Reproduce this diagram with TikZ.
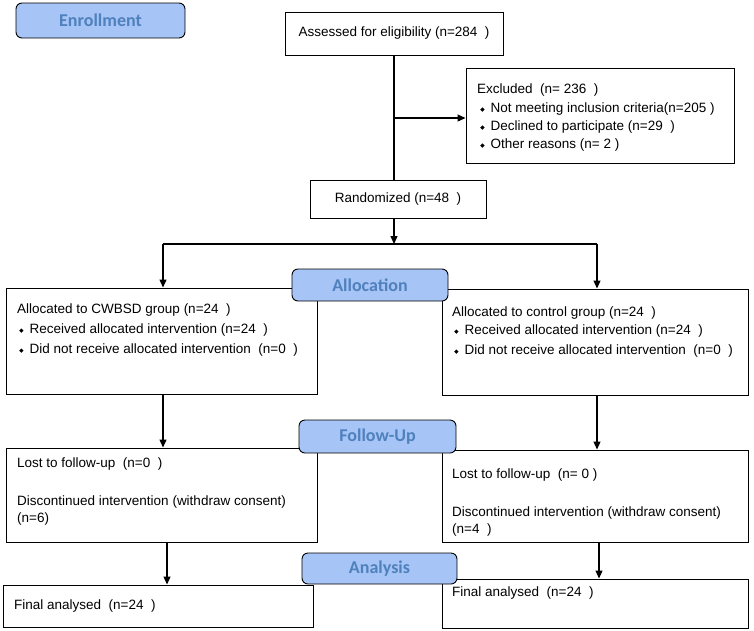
\documentclass[tikz,border=0pt]{standalone}
\usepackage{fontspec}
\setmainfont{Liberation Sans}
\newfontfamily\labfont{Carlito}
\usetikzlibrary{arrows.meta}
\definecolor{labfill}{RGB}{166,196,245}
\definecolor{labtext}{RGB}{79,129,189}
\newcommand\dbul{\tikz[baseline=0pt]\fill (0pt,2.4pt) -- (2.2pt,4.6pt) -- (4.4pt,2.4pt) -- (2.2pt,0.2pt) -- cycle;\hspace{6pt}}
\tikzset{
  box/.style={draw, line width=1pt, inner sep=0pt},
  lab/.style={draw, line width=0.9pt, rounded corners=6pt, fill=labfill, text=labtext, inner sep=0pt,
    font=\labfont\bfseries\fontsize{18}{20}\selectfont},
  txt/.style={anchor=base west, inner sep=0pt, font=\fontsize{13.5}{16}\selectfont},
  ctxt/.style={font=\fontsize{13.5}{16}\selectfont},
  arr/.style={-{Triangle[length=8pt,width=7pt]}, line width=1.2pt},
  ln/.style={line width=1.2pt}
}
\begin{document}
\begin{tikzpicture}[x=1pt,y=-1pt]
\useasboundingbox (0,0) rectangle (754,630);
% boxes
\node[box, ctxt, minimum width=218pt, minimum height=43pt] (assess) at (394,33.5) {Assessed for eligibility (n=284~~)};
\node[box, minimum width=268pt, minimum height=95pt] (excl) at (600,115.5) {};
\node[box, ctxt, minimum width=176pt, minimum height=38pt] (rand) at (398,199) {Randomized (n=48~~)};
\node[box, minimum width=311pt, minimum height=106pt] (l1) at (161.5,341) {};
\node[box, minimum width=306pt, minimum height=106pt] (r1) at (595,342) {};
\node[box, minimum width=311pt, minimum height=94pt] (l2) at (161.5,495) {};
\node[box, minimum width=306pt, minimum height=92pt] (r2) at (595,496) {};
\node[box, minimum width=310pt, minimum height=42pt] (l3) at (158,606) {};
\node[box, minimum width=306pt, minimum height=49pt] (r3) at (595,603.5) {};
% texts
\node[txt] (ex0) at (477,93) {Excluded~~(n=~236~~)};
\node[txt] (ex1) at (480,112) {\dbul Not meeting inclusion criteria(n=205 )};
\node[txt] (ex2) at (480,130) {\dbul Declined to participate (n=29~~)};
\node[txt] (ex3) at (480,148) {\dbul Other reasons (n=~2 )};
\node[txt] (l1a) at (17,313) {Allocated to CWBSD group (n=24~~)};
\node[txt] (l1b) at (19,333) {\dbul Received allocated intervention (n=24~~)};
\node[txt] (l1c) at (19,353) {\dbul Did not receive allocated intervention~~(n=0~~)};
\node[txt] (r1a) at (452,316) {Allocated to control group (n=24~~)};
\node[txt] (r1b) at (454,334) {\dbul Received allocated intervention (n=24~~)};
\node[txt] (r1c) at (454,354) {\dbul Did not receive allocated intervention~~(n=0~~)};
\node[txt] (l2a) at (17,467) {Lost to follow-up~~(n=0~~)};
\node[txt] (l2b) at (17,505) {Discontinued intervention (withdraw consent)};
\node[txt] (l2c) at (17,522) {(n=6)};
\node[txt] (r2a) at (452,478) {Lost to follow-up~~(n=~0 )};
\node[txt] (r2b) at (452,516) {Discontinued intervention (withdraw consent)};
\node[txt] (r2c) at (452,533) {(n=4~~)};
\node[txt] (l3a) at (14,609) {Final analysed~~(n=24~~)};
\node[txt] (r3a) at (452,596) {Final analysed~~(n=24~~)};
% connectors
\coordinate (bx) at (394,118);
\coordinate (split) at (394,244);
\coordinate (sl) at (163,244);
\coordinate (sr) at (597,244);
\draw[ln] (assess.south) -- (assess.south |- rand.north);
\draw[arr] (bx) -- (excl.west |- bx);
\draw[arr] (assess.south |- rand.south) -- (split);
\draw[ln] (sl) -- (sr);
\draw[arr] (sl) -- (sl |- l1.north);
\draw[arr] (sr) -- (sr |- r1.north);
\draw[arr] (sl |- l1.south) -- (sl |- l2.north);
\draw[arr] (sr |- r1.south) -- (sr |- r2.north);
\draw[arr] ([xshift=5.5pt]l2.south) -- ([xshift=5.5pt]l2.south |- l3.north);
\draw[arr] ([xshift=4pt]r2.south) -- ([xshift=4pt]r2.south |- r3.north);
% phase labels
\node[lab, minimum width=169pt, minimum height=35pt] (enroll) at (100.5,20.5) {Enrollment};
\node[lab, minimum width=156pt, minimum height=32pt] (alloc) at (370,285) {Allocation};
\node[lab, minimum width=157pt, minimum height=33pt] (follow) at (377.5,436.5) {Follow-Up};
\node[lab, minimum width=155pt, minimum height=31pt] (anal) at (379.5,568.5) {Analysis};
\end{tikzpicture}
\end{document}
